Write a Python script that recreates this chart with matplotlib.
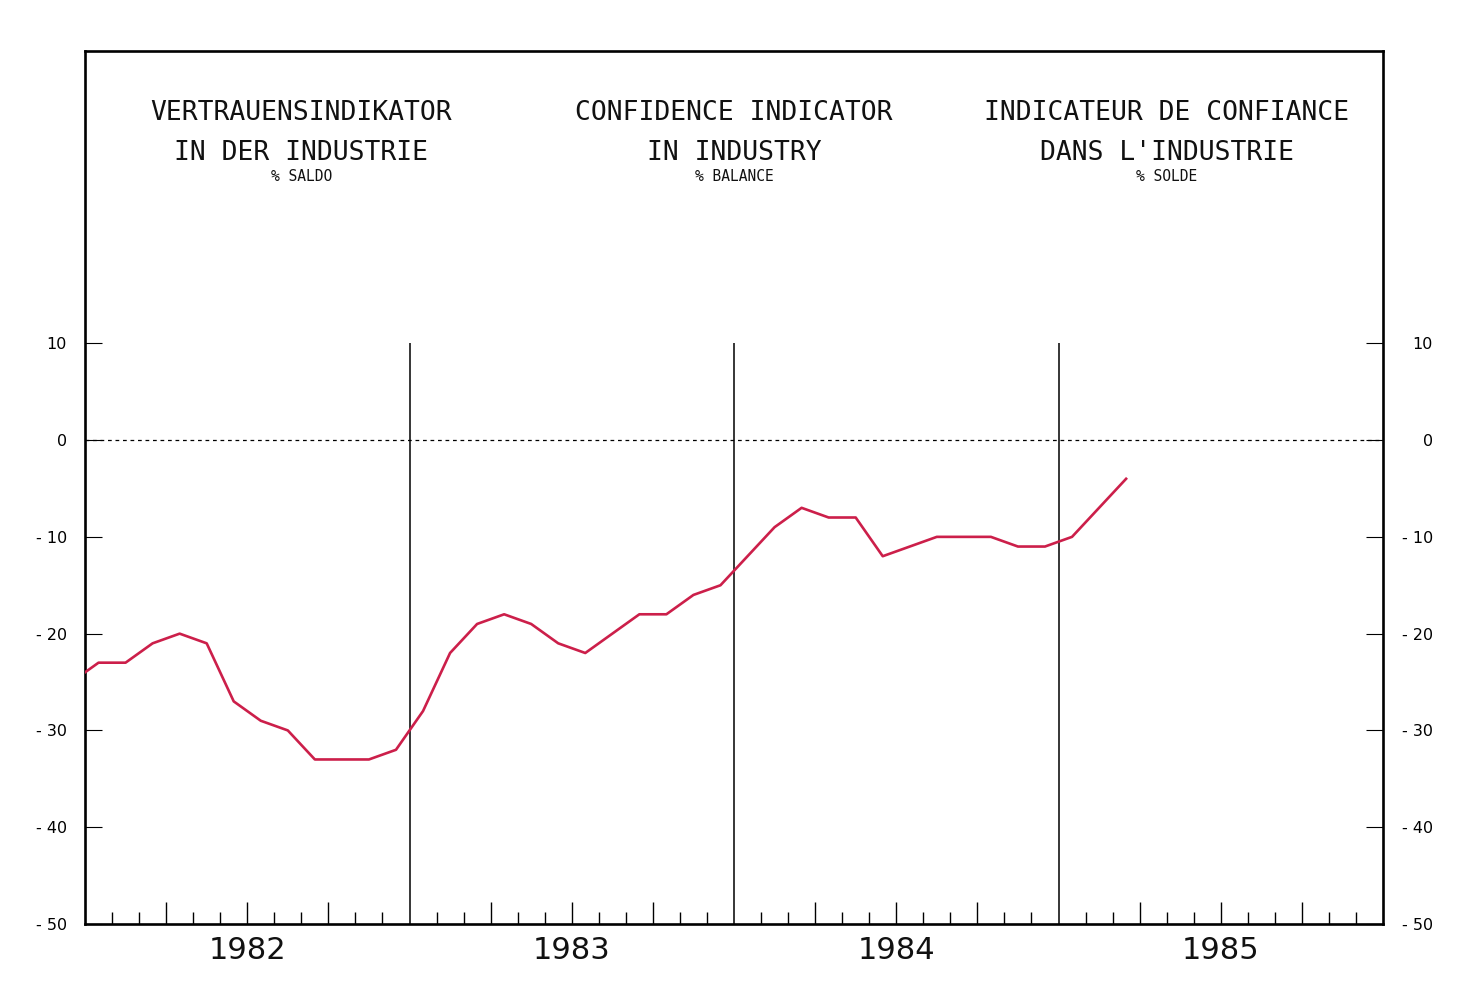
import numpy as np
import matplotlib
matplotlib.use("Agg")
import matplotlib.pyplot as plt
import matplotlib.transforms as mtransforms

# monthly balance, Dec 1981 .. Mar 1985 (first point is clipped at the frame)
months = np.arange(-1, 39) + 0.5
values = [-25,
          -23, -23, -21, -20, -21, -27, -29, -30, -33, -33, -33, -32,
          -28, -22, -19, -18, -19, -21, -22, -20, -18, -18, -16, -15,
          -12, -9, -7, -8, -8, -12, -11, -10, -10, -10, -11, -11,
          -10, -7, -4]
years = ["1982", "1983", "1984", "1985"]
yticks = [10, 0, -10, -20, -30, -40, -50]
ytick_labels = ["10", "0", "- 10", "- 20", "- 30", "- 40", "- 50"]
titles = [("VERTRAUENSINDIKATOR", "IN DER INDUSTRIE", "% SALDO"),
          ("CONFIDENCE INDICATOR", "IN INDUSTRY", "% BALANCE"),
          ("INDICATEUR DE CONFIANCE", "DANS L'INDUSTRIE", "% SOLDE")]

fig = plt.figure(figsize=(14.78, 9.85), dpi=100)
ax = fig.add_axes([85 / 1478, 1 - 924 / 985, 1298 / 1478, 873 / 985])

ax.plot(months, values, color="#cc1f4a", lw=1.9, solid_joinstyle="round", zorder=3)
ax.set_xlim(0, 48)
ax.set_ylim(-50, 40.2)

# year separators and zero line
ax.vlines([12, 24, 36], -50, 10, color="black", lw=1.1)
ax.axhline(0, color="black", lw=0.9, ls=(0, (3, 3)))

for s in ax.spines.values():
    s.set_linewidth(1.9)

# y ticks on both sides, right labels right-aligned ~50 px from the frame
ax.set_yticks(yticks)
ax.set_yticklabels(ytick_labels)
ax.tick_params(axis="y", direction="in", length=12, width=0.8, left=True, right=True,
               labelleft=True, labelright=True, labelsize=11.5, pad=13)
off = mtransforms.ScaledTranslation(50 / 100 - 13 / 72, 0, fig.dpi_scale_trans)
for t in ax.yaxis.get_major_ticks():
    t.label2.set_horizontalalignment("right")
    t.label2.set_transform(t.label2.get_transform() + off)

# month ticks, longer ones at quarters
ax.set_xticks([q for q in range(3, 48, 3) if q % 12])
ax.set_xticks([m for m in range(1, 48) if m % 3], minor=True)
ax.tick_params(axis="x", which="major", direction="in", length=16, width=1, labelbottom=False)
ax.tick_params(axis="x", which="minor", direction="in", length=8.5, width=1)

trans = mtransforms.blended_transform_factory(ax.transData, ax.transAxes)
for i, y in enumerate(years):
    ax.text(6 + 12 * i, -0.03, y, transform=trans, ha="center", va="center",
            fontsize=22, color="#111111")

for i, (l1, l2, l3) in enumerate(titles):
    x = (2 * i + 1) / 6
    ax.text(x, 0.929, l1, transform=ax.transAxes, ha="center", va="center",
            family="DejaVu Sans Mono", fontsize=19, color="#111111")
    ax.text(x, 0.883, l2, transform=ax.transAxes, ha="center", va="center",
            family="DejaVu Sans Mono", fontsize=19, color="#111111")
    ax.text(x, 0.856, l3, transform=ax.transAxes, ha="center", va="center",
            family="DejaVu Sans Mono", fontsize=10.5, color="#111111")

fig.savefig("out.png", dpi=100)
